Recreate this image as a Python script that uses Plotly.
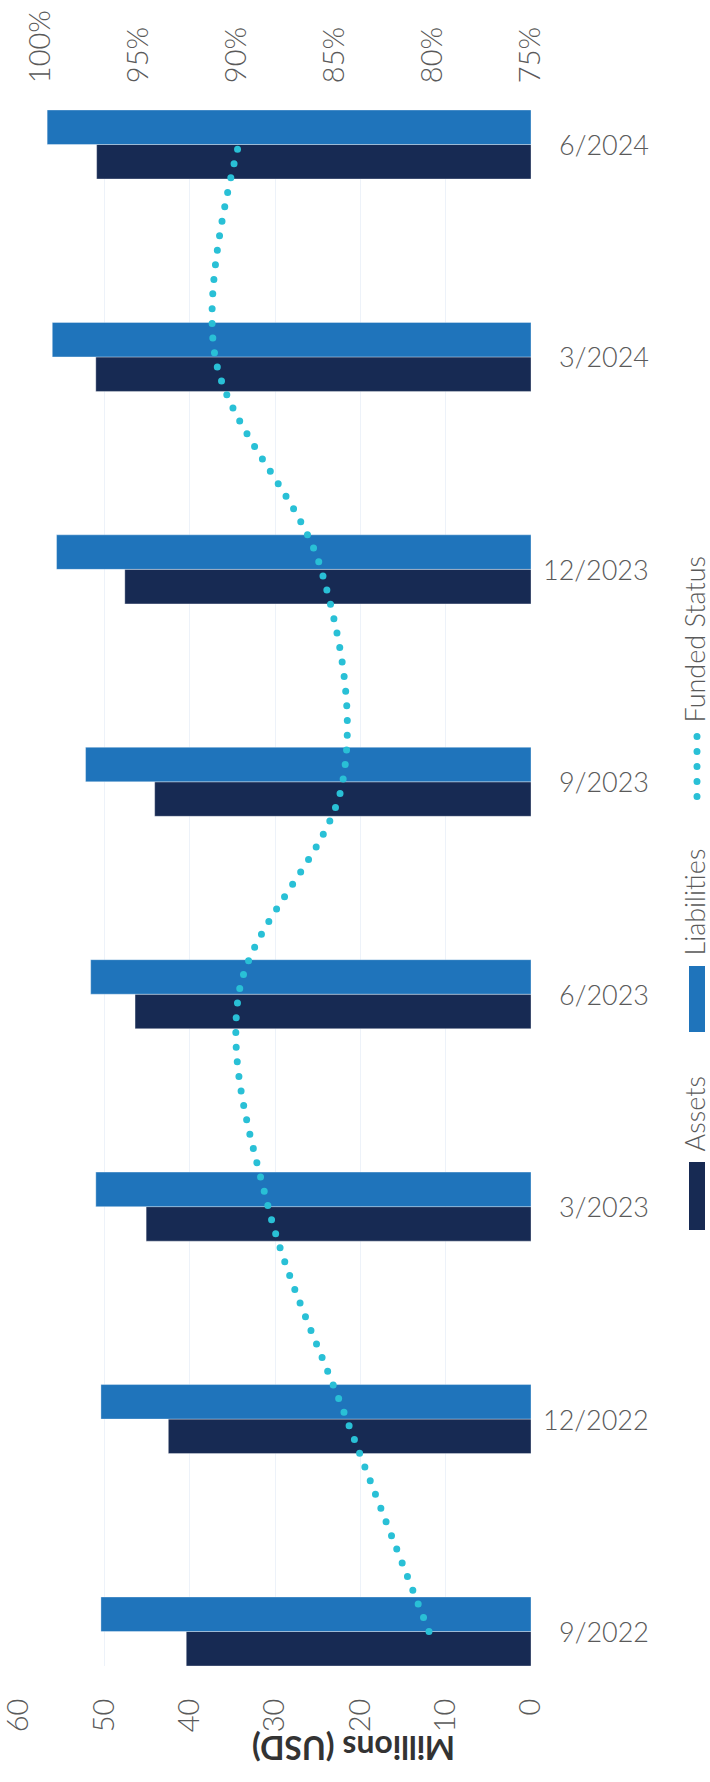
import plotly.graph_objects as go

# Quarter-end valuation dates (bottom to top)
quarters = ["9/2022", "12/2022", "3/2023", "6/2023", "9/2023", "12/2023", "3/2024", "6/2024"]

# Values in millions of USD
assets = [40.4, 42.5, 45.1, 46.4, 44.1, 47.6, 51.0, 50.9]
liabilities = [50.4, 50.4, 51.0, 51.6, 52.2, 55.6, 56.1, 56.7]

# Funded status, percent
funded_status = [80.2, 84.4, 88.4, 89.9, 84.6, 85.7, 91.1, 89.9]

money_ticks = [0, 10, 20, 30, 40, 50, 60]
pct_ticks = [75, 80, 85, 90, 95, 100]
pct_labels = [f"{v}%" for v in pct_ticks]

ASSET_COLOR = "#172a53"
LIAB_COLOR = "#1f74bb"
FUNDED_COLOR = "#29c0d6"
LABEL_COLOR = "#5a5a5a"
FONT = "Lato"

W, H = 710, 1782
M_L, M_R, M_T, M_B = 19, 179, 110, 116
PW, PH = W - M_L - M_R, H - M_T - M_B


def px_x(x):
    return (x - M_L) / PW


def px_y(y):
    return (H - M_B - y) / PH


fig = go.Figure()

fig.add_trace(go.Bar(
    name="Assets", y=quarters, x=assets, orientation="h",
    marker=dict(color=ASSET_COLOR, line=dict(color="rgba(255,255,255,0.35)", width=1)),
    showlegend=False,
))
fig.add_trace(go.Bar(
    name="Liabilities", y=quarters, x=liabilities, orientation="h",
    marker=dict(color=LIAB_COLOR, line=dict(color="rgba(255,255,255,0.35)", width=1)),
    showlegend=False,
))
fig.add_trace(go.Scatter(
    name="Funded Status", y=quarters, x=funded_status, xaxis="x2",
    mode="lines", line=dict(color=FUNDED_COLOR, width=7, shape="spline", dash="dot"),
    showlegend=False,
))

tick_font = dict(family=FONT, size=29, color=LABEL_COLOR, weight=300)

fig.update_layout(
    template="none",
    width=W, height=H,
    margin=dict(l=M_L, r=M_R, t=M_T, b=M_B, pad=0),
    paper_bgcolor="white", plot_bgcolor="white",
    barmode="group", bargap=0.675, bargroupgap=0,
    font=dict(family=FONT, color=LABEL_COLOR),
    xaxis=dict(
        range=[60, 0], tickvals=money_ticks, tickangle=-90,
        tickfont=tick_font, ticks="outside", ticklen=20, tickcolor="rgba(0,0,0,0)",
        ticklabeloverflow="allow",
        showgrid=True, gridcolor="#edf2f9", gridwidth=1,
        zeroline=False, showline=False, automargin=False,
    ),
    xaxis2=dict(
        overlaying="x", side="top", range=[101.1, 75],
        tickvals=pct_ticks, ticktext=pct_labels, tickangle=-90, tickfont=tick_font,
        ticks="outside", ticklen=20, tickcolor="rgba(0,0,0,0)",
        ticklabeloverflow="allow",
        showgrid=False, zeroline=False, showline=False, automargin=False,
    ),
    yaxis=dict(
        type="category", categoryorder="array", categoryarray=quarters,
        range=[-0.1624, 7.1624], showticklabels=False,
        showgrid=False, zeroline=False, showline=False, automargin=False,
    ),
)

# Quarter labels, right-aligned beside the bars
for q in quarters:
    fig.add_annotation(
        text=q, showarrow=False, xref="paper", yref="y",
        x=px_x(651), y=q, xanchor="right", yanchor="middle",
        font=dict(family=FONT, size=27, color=LABEL_COLOR, weight=300),
    )

# Axis title (upside down, centred on the page)
fig.add_annotation(
    text="Millions (USD)", textangle=180, showarrow=False,
    xref="paper", yref="paper", x=px_x(354), y=px_y(1749),
    xanchor="center", yanchor="middle",
    font=dict(family=FONT, size=32, color="#333333", weight=700),
)

# Vertical legend drawn on the right-hand side
LEG_X = 697
TEXT_X = 694
legend_items = [
    ("Assets", ASSET_COLOR, 1162, 1230),
    ("Liabilities", LIAB_COLOR, 966, 1032),
]
for label, color, top, bottom in legend_items:
    fig.add_shape(
        type="rect", xref="paper", yref="paper",
        x0=px_x(LEG_X - 8), x1=px_x(LEG_X + 8), y0=px_y(bottom), y1=px_y(top),
        fillcolor=color, line=dict(width=0),
    )
    fig.add_annotation(
        text=label, textangle=-90, showarrow=False,
        xref="paper", yref="paper", x=px_x(TEXT_X), y=px_y(top - 8),
        xanchor="center", yanchor="bottom",
        font=dict(family=FONT, size=27, color=LABEL_COLOR, weight=300),
    )

dot_top = 733
for i in range(5):
    cy = dot_top + 3.5 + i * 15
    fig.add_shape(
        type="circle", xref="paper", yref="paper",
        x0=px_x(LEG_X - 3.5), x1=px_x(LEG_X + 3.5),
        y0=px_y(cy + 3.5), y1=px_y(cy - 3.5),
        fillcolor=FUNDED_COLOR, line=dict(width=0),
    )
fig.add_annotation(
    text="Funded Status", textangle=-90, showarrow=False,
    xref="paper", yref="paper", x=px_x(TEXT_X), y=px_y(dot_top - 8),
    xanchor="center", yanchor="bottom",
    font=dict(family=FONT, size=27, color=LABEL_COLOR, weight=300),
)

# Round dotted stroke for the funded-status curve
post = """
var gd = document.getElementById('{plot_id}');
function roundDots(){
  gd.querySelectorAll('.scatterlayer .js-line').forEach(function(p){
    p.style.strokeLinecap = 'round';
    p.style.strokeDasharray = '0px 14.7px';
  });
}
roundDots();
gd.on('plotly_afterplot', roundDots);
"""

fig.write_html("out.html", post_script=post)
